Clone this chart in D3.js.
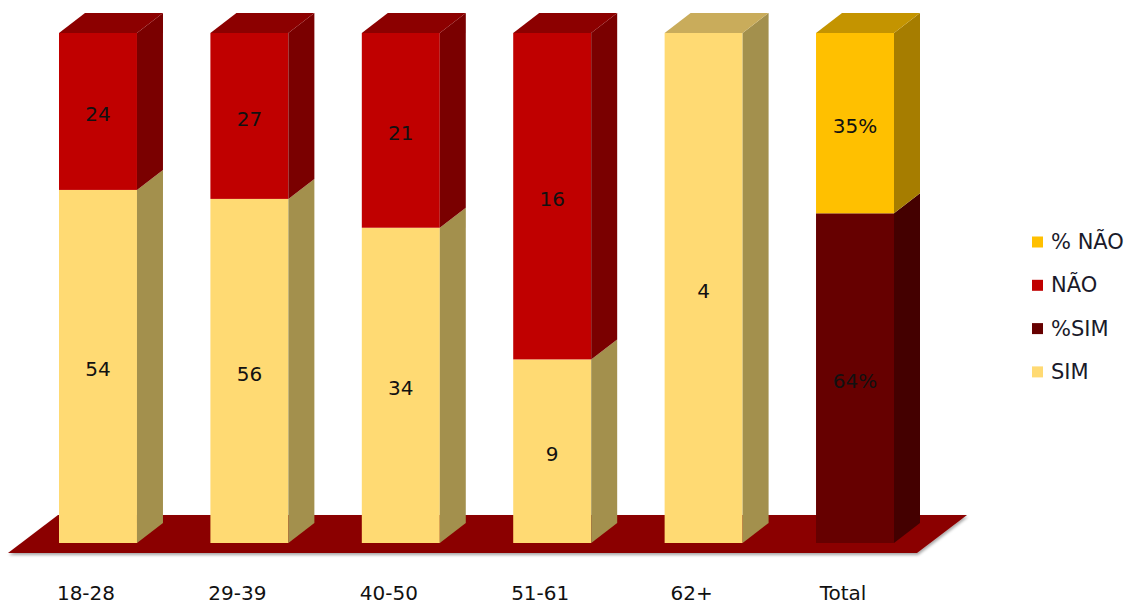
<!DOCTYPE html>
<html>
<head>
<meta charset="utf-8">
<script src="https://cdn.jsdelivr.net/npm/d3@7"></script>
<style>
  html, body { margin: 0; padding: 0; background: #ffffff; }
  svg { display: block; font-family: "DejaVu Sans", Verdana, sans-serif; }
</style>
</head>
<body>
<svg id="chart" width="1133" height="608"></svg>
<script>
// ---- data (bottom-to-top stacking order: SIM, %SIM, NÃO, % NÃO) ----
const categories = ["18-28", "29-39", "40-50", "51-61", "62+", "Total"];
const seriesNames = ["SIM", "%SIM", "NÃO", "% NÃO"];
const simValues    = [54, 56, 34, 9, 4, 0];
const pctSimValues = [0, 0, 0, 0, 0, 64];
const naoValues    = [24, 27, 21, 16, 0, 0];
const pctNaoValues = [0, 0, 0, 0, 0, 35];
const legendOrder  = ["% NÃO", "NÃO", "%SIM", "SIM"];

// ---- styles ----
const colors = {
  "SIM":   { front: "#FFDA73", side: "#A3904D", top: "#C9AC5B" },
  "%SIM":  { front: "#660000", side: "#440000", top: "#520000" },
  "NÃO":   { front: "#C00000", side: "#7A0000", top: "#8C0000" },
  "% NÃO": { front: "#FFC000", side: "#A67D00", top: "#C49400" }
};
const depth = { dx: 26, dy: -20 };

const svg = d3.select("#chart");

const rows = categories.map((c, i) => ({
  cat: c,
  "SIM": simValues[i],
  "%SIM": pctSimValues[i],
  "NÃO": naoValues[i],
  "% NÃO": pctNaoValues[i]
}));

const stacked = d3.stack().keys(seriesNames).offset(d3.stackOffsetExpand)(rows);

const x = d3.scaleBand().domain(categories).range([59, 894]).paddingInner(0.485).paddingOuter(0);
const y = d3.scaleLinear().domain([0, 1]).range([543, 33]);

// ---- floor ----
const defs = svg.append("defs");
const f = defs.append("filter").attr("id", "shadow").attr("x", "-5%").attr("y", "-20%").attr("width", "110%").attr("height", "150%");
f.append("feDropShadow").attr("dx", 1).attr("dy", 2).attr("stdDeviation", 1.5).attr("flood-color", "#000").attr("flood-opacity", 0.35);

const floorFrontY = y(0) + 10;
const floorLeft = x.range()[0] - 51;
const floorRight = x.range()[1] + 23;
const fdx = 50, fdy = -38;
svg.append("path")
  .attr("d", `M${floorLeft},${floorFrontY} L${floorRight},${floorFrontY} L${floorRight + fdx},${floorFrontY + fdy} L${floorLeft + fdx},${floorFrontY + fdy} Z`)
  .attr("fill", "#8B0000")
  .attr("filter", "url(#shadow)");

// ---- bars ----
const bw = x.bandwidth();
const g = svg.append("g");

const topKey = {};
categories.forEach((c, i) => {
  seriesNames.forEach(k => { if (rows[i][k] > 0) topKey[c] = k; });
});

stacked.forEach(layer => {
  const key = layer.key;
  const col = colors[key];
  layer.forEach((d, i) => {
    if (d[1] - d[0] <= 0) return;
    const c = categories[i];
    const x0 = x(c), x1 = x0 + bw;
    const yb = y(d[0]), yt = y(d[1]);
    const seg = g.append("g");
    seg.append("rect").attr("x", x0).attr("y", yt).attr("width", bw).attr("height", yb - yt).attr("fill", col.front);
    seg.append("path")
      .attr("d", `M${x1},${yt} L${x1 + depth.dx},${yt + depth.dy} L${x1 + depth.dx},${yb + depth.dy} L${x1},${yb} Z`)
      .attr("fill", col.side);
    if (topKey[c] === key) {
      seg.append("path")
        .attr("d", `M${x0},${yt} L${x0 + depth.dx},${yt + depth.dy} L${x1 + depth.dx},${yt + depth.dy} L${x1},${yt} Z`)
        .attr("fill", col.top);
    }
  });
});

// ---- data labels ----
stacked.forEach(layer => {
  const key = layer.key;
  const isPct = key.indexOf("%") >= 0;
  layer.forEach((d, i) => {
    const v = rows[i][key];
    if (!v) return;
    const c = categories[i];
    svg.append("text")
      .attr("x", x(c) + bw / 2)
      .attr("y", (y(d[0]) + y(d[1])) / 2 + 3)
      .attr("text-anchor", "middle")
      .attr("dominant-baseline", "central")
      .attr("font-size", 20)
      .attr("fill", "#111")
      .text(isPct ? v + "%" : v);
  });
});

// ---- category axis labels ----
const xAxis = svg.append("g").attr("transform", `translate(-12,0)`);
categories.forEach(c => {
  xAxis.append("text")
    .attr("x", x(c) + bw / 2)
    .attr("y", 600)
    .attr("text-anchor", "middle")
    .attr("font-size", 20)
    .attr("fill", "#111")
    .text(c);
});

// ---- legend ----
const legend = svg.append("g");
legendOrder.forEach((k, i) => {
  const cy = 242 + i * 43.3;
  legend.append("rect").attr("x", 1032).attr("y", cy - 5.5).attr("width", 11).attr("height", 11).attr("fill", colors[k].front);
  legend.append("text")
    .attr("x", 1051)
    .attr("y", cy)
    .attr("dominant-baseline", "central")
    .attr("font-size", 21)
    .attr("fill", "#1a1a2a")
    .text(k);
});
</script>
</body>
</html>
